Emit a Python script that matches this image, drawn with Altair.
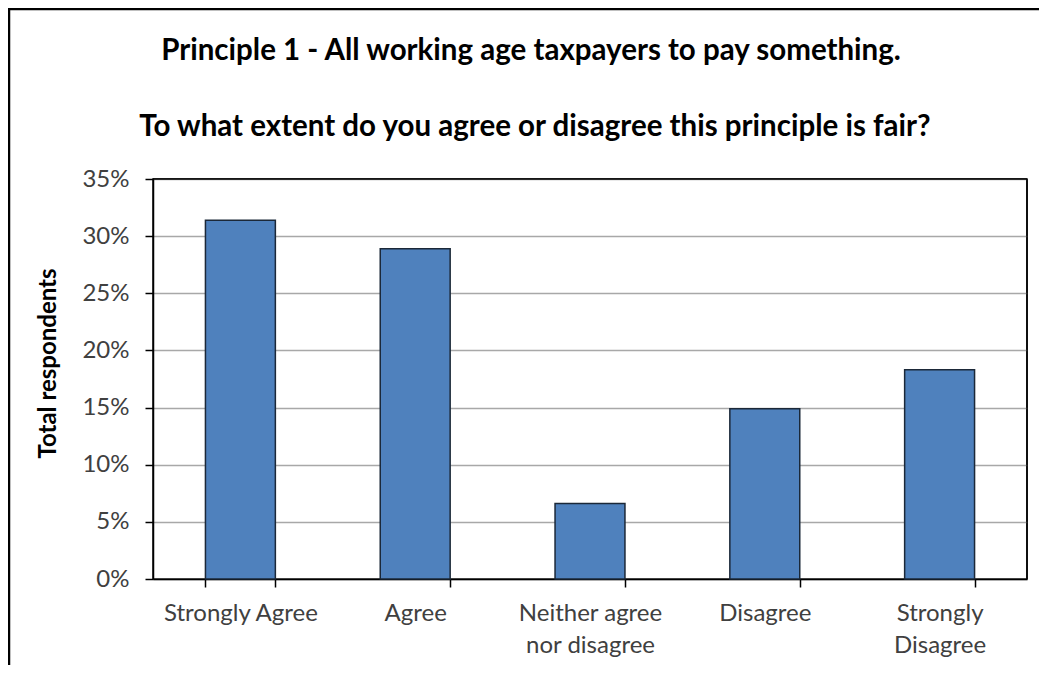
import altair as alt
import pandas as pd

categories = ["Strongly Agree", "Agree", "Neither agree|nor disagree", "Disagree", "Strongly|Disagree"]
shares = [0.314, 0.289, 0.066, 0.149, 0.183]
y_ticks = [0, 0.05, 0.10, 0.15, 0.20, 0.25, 0.30, 0.35]

title_line1 = "Principle 1 - All working age taxpayers to pay something."
title_line2 = "To what extent do you agree or disagree this principle is fair?"
y_title = "Total respondents"

df = pd.DataFrame({"category": categories, "share": shares})

FONT = "Lato"
LABEL_COLOR = "#404040"

bars = alt.Chart(df).mark_bar(
    color="#4F81BD", stroke="#1B2838", strokeWidth=1.5
).encode(
    x=alt.X(
        "category:N",
        sort=categories,
        scale=alt.Scale(paddingInner=0.6, paddingOuter=0.3),
        axis=alt.Axis(
            title=None,
            labelAngle=0,
            labelExpr="split(datum.label, '|')",
            labelLineHeight=32,
            labelFont=FONT,
            labelFontSize=24,
            labelColor=LABEL_COLOR,
            labelPadding=14,
            tickBand="extent",
            tickSize=8,
            tickColor="black",
            tickWidth=1.5,
            domainColor="black",
            domainWidth=1.5,
            grid=False,
        ),
    ),
    y=alt.Y(
        "share:Q",
        scale=alt.Scale(domain=[0, 0.35], nice=False),
        axis=alt.Axis(
            values=y_ticks,
            format=".0%",
            title=y_title,
            titleFont=FONT,
            titleFontSize=24,
            titleFontWeight="bold",
            titleColor="black",
            titleAngle=270,
            titleAlign="center",
            titleBaseline="middle",
            titleX=-105,
            titleY=184,
            labelFont=FONT,
            labelFontSize=24,
            labelColor=LABEL_COLOR,
            labelPadding=16,
            tickSize=8,
            tickColor="black",
            tickWidth=1.5,
            domainColor="black",
            domainWidth=1.5,
            grid=True,
            gridColor="#A8A8A8",
            gridWidth=1.5,
        ),
    ),
)

one_row = pd.DataFrame({"f": [0]})

title1 = alt.Chart(one_row).mark_text(
    text=title_line1, font=FONT, fontSize=29.5, fontWeight="bold", color="black",
    align="center", baseline="alphabetic"
).encode(x=alt.value(378), y=alt.value(-119))

title2 = alt.Chart(one_row).mark_text(
    text=title_line2, font=FONT, fontSize=29.5, fontWeight="bold", color="black",
    align="center", baseline="alphabetic"
).encode(x=alt.value(382), y=alt.value(-43))

top_border = alt.Chart(one_row).mark_rule(color="black", strokeWidth=1.5).encode(
    y=alt.value(0), x=alt.value(0), x2=alt.value(874)
)
right_border = alt.Chart(one_row).mark_rule(color="black", strokeWidth=1.5).encode(
    x=alt.value(874), y=alt.value(0), y2=alt.value(400)
)

frame_left = alt.Chart(one_row).mark_rule(color="black", strokeWidth=2.5).encode(
    x=alt.value(-144), y=alt.value(-170), y2=alt.value(510)
)
frame_top = alt.Chart(one_row).mark_rule(color="black", strokeWidth=2.5).encode(
    y=alt.value(-170), x=alt.value(-145), x2=alt.value(890)
)

chart = alt.layer(
    bars, top_border, right_border, title1, title2, frame_left, frame_top
).properties(
    width=874,
    height=400,
    padding={"left": 145, "top": 171, "right": 12, "bottom": 86},
    autosize=alt.AutoSizeParams(type="none"),
    background="white",
).configure_view(
    stroke="black", strokeWidth=1.5
)

chart.save("out.html", embed_options={"renderer": "svg", "actions": False})
